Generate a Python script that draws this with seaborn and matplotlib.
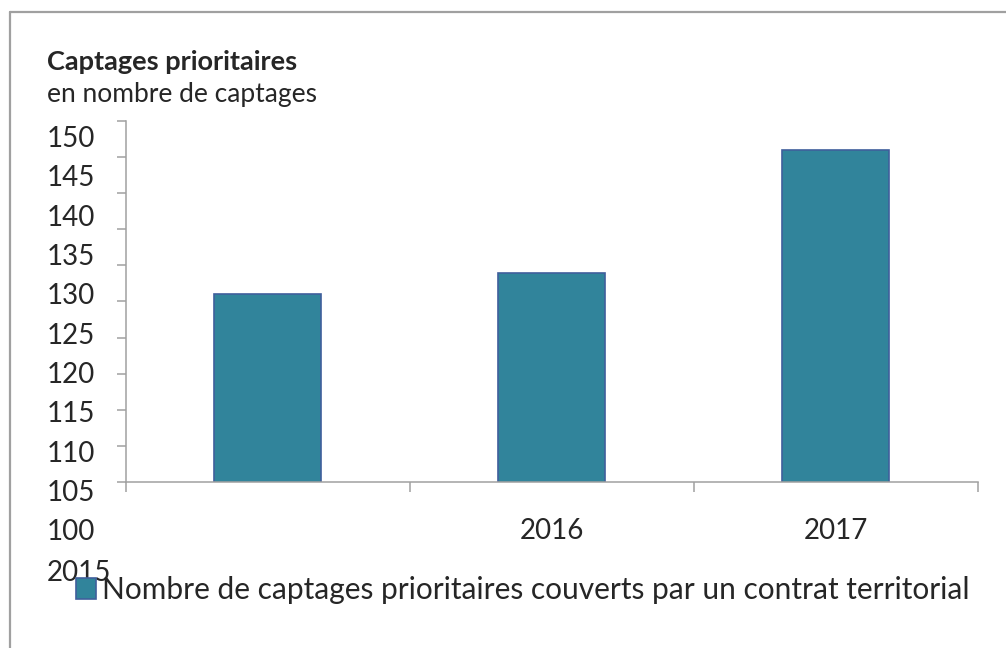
import matplotlib
matplotlib.use("Agg")
import matplotlib.pyplot as plt
import matplotlib.transforms as mtransforms
from matplotlib.lines import Line2D
from matplotlib.patches import Patch
import pandas as pd
import seaborn as sns

# ---------- 1. Data ----------
years = ["2015", "2016", "2017"]
captages = [126, 129, 146]
y_ticks = [150, 145, 140, 135, 130, 125, 120, 115, 110, 105, 100]
series_name = "Nombre de captages prioritaires couverts par un contrat territorial"
title = "Captages prioritaires"
subtitle = "en nombre de captages"

bar_color = "#31849b"
edge_color = "#3f5f9c"
grey = "#a0a0a0"

# ---------- 2. Style ----------
sns.set_style("white")
plt.rcParams["font.family"] = ["Lato", "DejaVu Sans"]

df = pd.DataFrame({"annee": years, "valeur": captages})

fig = plt.figure(figsize=(10.06, 6.48), dpi=100)
ax = fig.add_axes([0.1252, 0.2562, 0.8469, 0.5571])

sns.barplot(data=df, x="annee", y="valeur", color=bar_color, width=0.377,
            edgecolor=edge_color, linewidth=1.2, saturation=1, ax=ax)

ax.set_ylim(100, 150)
ax.set_xlim(-0.5, 2.5)
ax.set_xlabel("")
ax.set_ylabel("")

# ---------- 3. Axes look ----------
for side in ["top", "right"]:
    ax.spines[side].set_visible(False)
for side in ["left", "bottom"]:
    ax.spines[side].set_color(grey)
    ax.spines[side].set_linewidth(1.1)

ax.set_yticks(y_ticks)
ax.set_yticklabels([str(v) for v in y_ticks], fontsize=20)
ax.tick_params(axis="y", left=True, length=6.5, width=1.1, color=grey, pad=16)

ax.set_xticks(range(len(years)))
ax.set_xticklabels(years, fontsize=20)
ax.set_xticks([i - 0.5 for i in range(len(years) + 1)], minor=True)
ax.tick_params(axis="x", which="major", bottom=True, length=0, pad=26)
ax.tick_params(axis="x", which="minor", bottom=True, length=7, width=1.1, color=grey)

# the original export shifts the value labels downwards, a little more each line
for i, lab in enumerate(ax.get_yticklabels()):
    dy = (15.7 + 3.2 * i) / 100
    lab.set_transform(lab.get_transform() + mtransforms.ScaledTranslation(0, -dy, fig.dpi_scale_trans))

# and the first year label ends up under the value labels
first = ax.get_xticklabels()[0]
first.set_transform(first.get_transform() + mtransforms.ScaledTranslation(-1.89, -0.417, fig.dpi_scale_trans))

# ---------- 4. Titles, legend, frame ----------
fig.text(47 / 1006, 1 - 70 / 648, title, fontsize=19.5, fontweight="bold", va="baseline")
fig.text(47 / 1006, 1 - 102 / 648, subtitle, fontsize=19, va="baseline")

handle = Patch(facecolor=bar_color, edgecolor=edge_color, linewidth=1.2)
fig.legend(handles=[handle], labels=[series_name], loc="upper left",
           bbox_to_anchor=(76 / 1006, 1 - 576 / 648), frameon=False, fontsize=21.5,
           handlelength=0.67, handleheight=0.67, handletextpad=0.2,
           borderpad=0, borderaxespad=0)

x0 = 9.5 / 1006
y0 = 1 - 12 / 648
fig.add_artist(Line2D([x0, x0], [0, y0], color=grey, lw=1.6, transform=fig.transFigure))
fig.add_artist(Line2D([x0, 1], [y0, y0], color=grey, lw=1.6, transform=fig.transFigure))

fig.savefig("out.png", dpi=100)
